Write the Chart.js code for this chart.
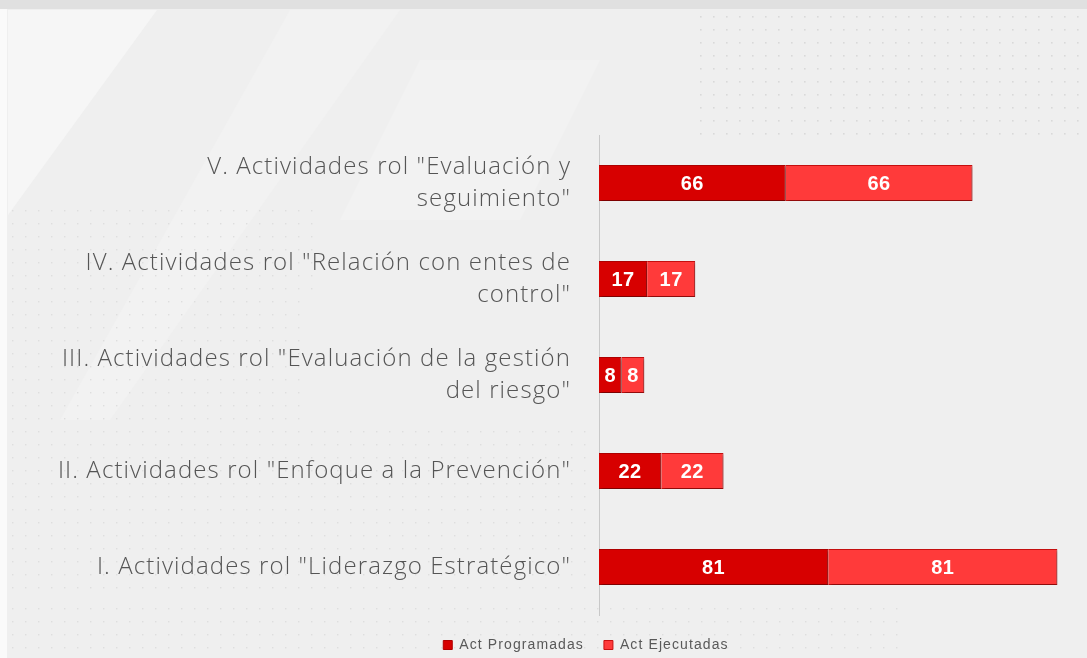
<!DOCTYPE html>
<html>
<head>
<meta charset="utf-8">
<script src="https://cdn.jsdelivr.net/npm/chart.js@4"></script>
<style>
  html, body { margin: 0; padding: 0; background: #f1f1f1; }
  #wrap { width: 1087px; height: 658px; position: relative; }
</style>
</head>
<body>
<div id="wrap"><canvas id="chart" width="1087" height="658"></canvas></div>
<script>
// datos del gráfico
const categorias = [
  ['V. Actividades rol "Evaluación y', 'seguimiento"'],
  ['IV. Actividades rol "Relación con entes de', 'control"'],
  ['III. Actividades rol "Evaluación de la gestión', 'del riesgo"'],
  'II. Actividades rol "Enfoque a la Prevención"',
  'I. Actividades rol "Liderazgo Estratégico"'
];
const actProgramadas = [66, 17, 8, 22, 81];
const actEjecutadas = [66, 17, 8, 22, 81];

// el texto del original está algo estirado: espaciado de letras
const espaciadoPlugin = {
  id: 'espaciado',
  beforeLayout(chart) { chart.ctx.letterSpacing = '1.1px'; },
  afterLayout(chart) {
    // la leyenda del original queda algo a la derecha del centro
    chart.legend.left += 92;
    chart.legend.top += 3;
  },
  beforeDraw(chart) { chart.ctx.letterSpacing = '1.1px'; }
};

// fondo: franja superior, diagonales claras y puntos
const fondoPlugin = {
  id: 'fondo',
  beforeDraw(chart) {
    const ctx = chart.ctx;
    const w = chart.width, h = chart.height;
    ctx.save();
    ctx.fillStyle = '#efefef';
    ctx.fillRect(0, 0, w, h);
    ctx.fillStyle = '#f6f6f6';
    ctx.beginPath();
    ctx.moveTo(8, 10); ctx.lineTo(157, 10); ctx.lineTo(8, 215); ctx.closePath();
    ctx.fill();
    ctx.fillStyle = '#f2f2f2';
    ctx.beginPath();
    ctx.moveTo(290, 10); ctx.lineTo(400, 10); ctx.lineTo(110, 420); ctx.lineTo(60, 420); ctx.closePath();
    ctx.fill();
    ctx.beginPath();
    ctx.moveTo(420, 60); ctx.lineTo(600, 60); ctx.lineTo(520, 220); ctx.lineTo(340, 220); ctx.closePath();
    ctx.fill();
    // puntos
    ctx.fillStyle = '#d9d9d9';
    for (let y = 16; y < 135; y += 13) {
      for (let x = 700; x < w; x += 13) {
        ctx.fillRect(x, y, 1.6, 1.6);
      }
    }
    ctx.fillStyle = '#dedede';
    for (let y = 210; y < 600; y += 13) {
      for (let x = 12; x < 590; x += 13) {
        if (x < 320 - (y - 210) * 0.1 || y > 430) ctx.fillRect(x, y, 1.4, 1.4);
      }
    }
    for (let y = 608; y < 654; y += 13) {
      for (let x = 12; x < 900; x += 13) {
        ctx.fillRect(x, y, 1.4, 1.4);
      }
    }
    // franja superior
    ctx.fillStyle = '#e0e0e0';
    ctx.fillRect(0, 0, w, 9);
    ctx.fillStyle = '#fafafa';
    ctx.fillRect(0, 9, 7, h);
    ctx.restore();
  }
};

// sombra de las barras
const sombraPlugin = {
  id: 'sombra',
  beforeDatasetDraw(chart) {
    const ctx = chart.ctx;
    ctx.save();
    ctx.shadowColor = 'rgba(0,0,0,0.35)';
    ctx.shadowBlur = 3;
    ctx.shadowOffsetX = 2;
    ctx.shadowOffsetY = 2;
  },
  afterDatasetDraw(chart) {
    chart.ctx.restore();
  }
};

// etiquetas de valor dentro de las barras
const valoresPlugin = {
  id: 'valores',
  afterDatasetsDraw(chart) {
    const ctx = chart.ctx;
    ctx.save();
    ctx.letterSpacing = '0.5px';
    ctx.fillStyle = '#ffffff';
    ctx.font = 'bold 20px "Liberation Sans", Arial, sans-serif';
    ctx.textAlign = 'center';
    ctx.textBaseline = 'middle';
    chart.data.datasets.forEach((ds, i) => {
      chart.getDatasetMeta(i).data.forEach((bar, j) => {
        const cx = (bar.x + bar.base) / 2;
        ctx.fillText(ds.data[j], cx, bar.y + 1);
      });
    });
    ctx.restore();
  }
};

new Chart(document.getElementById('chart'), {
  type: 'bar',
  data: {
    labels: categorias,
    datasets: [
      {
        label: 'Act Programadas',
        data: actProgramadas,
        backgroundColor: '#d70000',
        borderColor: '#b00000',
        borderWidth: 1,
        barPercentage: 0.75,
        categoryPercentage: 0.5
      },
      {
        label: 'Act Ejecutadas',
        data: actEjecutadas,
        backgroundColor: '#ff3a3a',
        borderColor: '#c81010',
        borderWidth: 1,
        barPercentage: 0.75,
        categoryPercentage: 0.5
      }
    ]
  },
  options: {
    indexAxis: 'y',
    responsive: false,
    animation: false,
    layout: { padding: { top: 135, right: 7, bottom: -1, left: 0 } },
    plugins: {
      legend: {
        position: 'bottom',
        labels: {
          boxWidth: 9,
          boxHeight: 9,
          padding: 20,
          color: '#595959',
          font: { family: '"Liberation Sans", Arial, sans-serif', size: 14 }
        }
      },
      tooltip: { enabled: false }
    },
    scales: {
      x: {
        stacked: true,
        min: 0,
        max: 170,
        display: false
      },
      y: {
        stacked: true,
        grid: { display: false, drawTicks: false },
        border: { display: true, color: '#c8c8c8', width: 1 },
        ticks: {
          color: '#555555',
          padding: 28,
          font: { family: '"Open Sans", sans-serif', size: 24, weight: '300', lineHeight: 1.34 }
        },
        afterFit(scale) {
          scale.width = 599;
          scale.paddingTop = 0;
          scale.paddingBottom = 0;
        }
      }
    }
  },
  plugins: [espaciadoPlugin, fondoPlugin, sombraPlugin, valoresPlugin]
});
</script>
</body>
</html>
